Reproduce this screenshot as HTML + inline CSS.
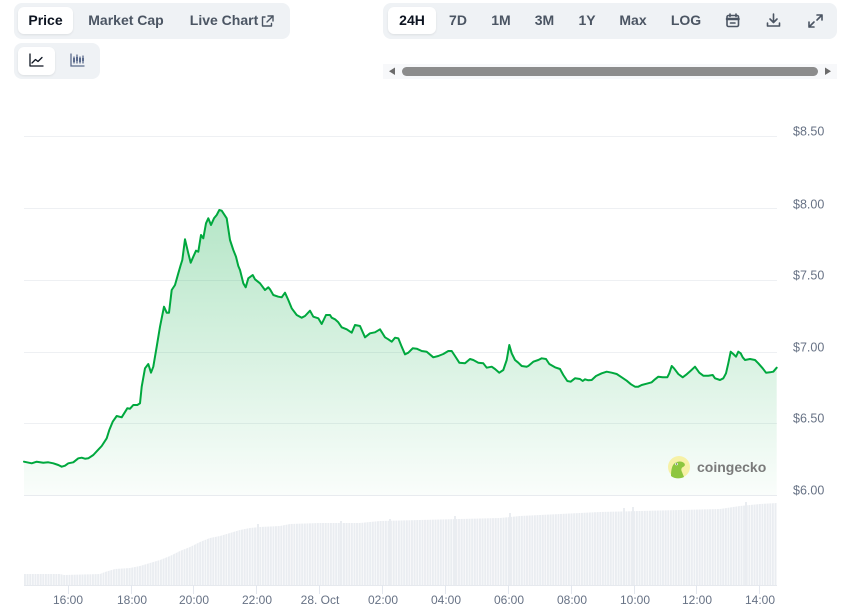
<!DOCTYPE html>
<html><head><meta charset="utf-8">
<style>
*{margin:0;padding:0;box-sizing:border-box}
body{width:841px;height:615px;background:#fff;position:relative;overflow:hidden;font-family:"Liberation Sans",Arial,sans-serif}
.grp{position:absolute;background:#eff2f5;border-radius:8px}
.btn{position:absolute;height:27px;line-height:27px;font-size:14px;font-weight:bold;color:#4b5563;text-align:center;white-space:nowrap}
.sel{background:#fff;border-radius:6px;color:#0d1421;box-shadow:0 1px 2px rgba(0,0,0,0.08)}
svg{position:absolute;left:0;top:0}
</style></head><body>
<div class="grp" style="left:14px;top:3px;width:276px;height:36px"></div>
<div class="btn sel" style="left:18px;top:7px;width:55px">Price</div>
<div class="btn" style="left:82px;top:7px;width:88px">Market Cap</div>
<div class="btn" style="left:186px;top:7px;width:76px">Live Chart</div>

<div class="grp" style="left:14px;top:43px;width:86px;height:36px"></div>
<div class="btn sel" style="left:18px;top:47px;width:37px;height:28px"></div>

<div class="grp" style="left:383px;top:3px;width:454px;height:36px"></div>
<div class="btn sel" style="left:388px;top:7px;width:48px">24H</div>
<div class="btn" style="left:444px;top:7px;width:28px">7D</div>
<div class="btn" style="left:486px;top:7px;width:30px">1M</div>
<div class="btn" style="left:529px;top:7px;width:31px">3M</div>
<div class="btn" style="left:573px;top:7px;width:28px">1Y</div>
<div class="btn" style="left:615px;top:7px;width:36px">Max</div>
<div class="btn" style="left:668px;top:7px;width:36px">LOG</div>

<svg width="841" height="615" viewBox="0 0 841 615">
<defs>
<linearGradient id="ag" x1="0" y1="210" x2="0" y2="495" gradientUnits="userSpaceOnUse">
<stop offset="0" stop-color="#00a83e" stop-opacity="0.29"/>
<stop offset="1" stop-color="#00a83e" stop-opacity="0.02"/>
</linearGradient>
<pattern id="vb" x="24" y="0" width="2.615" height="615" patternUnits="userSpaceOnUse">
<rect x="0" y="0" width="2" height="615" fill="#eaedf1"/>
</pattern>
</defs>
<!-- icons -->
<g fill="none" stroke="#4b5563" stroke-width="1.4" stroke-linecap="round" stroke-linejoin="round">
<path d="M265 17 h-2.5 v9 h9 v-2.5"/><path d="M268 16 h5 v5"/><path d="M273 16 l-6 6"/>
</g>
<g fill="none" stroke="#0d1421" stroke-width="1.3" stroke-linecap="round" stroke-linejoin="round">
<path d="M30 54 v12 h13"/><path d="M32 63 l3.5-3.5 l2.5 2 l4-4"/>
</g>
<g fill="none" stroke="#5b6b8c" stroke-width="1.3" stroke-linecap="round">
<path d="M71 54 v12 h13"/><path d="M74 57 v6 M77 55 v8 M80 57 v6 M83 56 v7"/>
</g>
<g fill="#5b6b8c"><rect x="73" y="58" width="2" height="4"/><rect x="76" y="57" width="2" height="4"/><rect x="79" y="58" width="2" height="4"/><rect x="82" y="58" width="2" height="3"/></g>
<g fill="none" stroke="#4b5563" stroke-width="1.6" stroke-linecap="round" stroke-linejoin="round">
<rect x="727" y="15.5" width="11.5" height="11" rx="1.5"/><path d="M727 19 h11.5" stroke-width="2.5"/><path d="M730.5 23 h4.5"/><path d="M730 14 v2.5 M736 14 v2.5"/>
<path d="M773.5 14 v8 M770 19 l3.5 3.5 l3.5-3.5"/><path d="M767.5 23 v3 h12 v-3"/>
<path d="M817 15 h5 v5 M822 15 l-5 5 M814 27 h-5 v-5 M809 27 l5-5"/>
</g>
<!-- scrollbar -->
<rect x="383" y="64" width="454" height="15" fill="#f7f8fa"/>
<rect x="402" y="67" width="416" height="9" rx="4.5" fill="#8c8c8c"/>
<path d="M395 67.5 v7.5 l-6-3.75z" fill="#6b6b6b"/>
<path d="M825 67.5 v7.5 l6-3.75z" fill="#6b6b6b"/>
<!-- grid -->
<g stroke="#eef0f3" stroke-width="1">
<line x1="24" y1="136.5" x2="777" y2="136.5"/>
<line x1="24" y1="208.5" x2="777" y2="208.5"/>
<line x1="24" y1="280.5" x2="777" y2="280.5"/>
<line x1="24" y1="352.5" x2="777" y2="352.5"/>
<line x1="24" y1="423.5" x2="777" y2="423.5"/>
<line x1="24" y1="495.5" x2="777" y2="495.5" stroke="#e8ebef"/>
</g>
<g font-size="12.5" fill="#677285">
<text x="793" y="135.5">$8.50</text>
<text x="793" y="208.5">$8.00</text>
<text x="793" y="279.5">$7.50</text>
<text x="793" y="351.5">$7.00</text>
<text x="793" y="422.5">$6.50</text>
<text x="793" y="494.5">$6.00</text>
</g>
<!-- volume -->
<polygon fill="url(#vb)" points="24,585 24,574 60,574 64,575 100,574 105,572 115,569 130,568 140,566 150,563 160,560 170,556 180,551 190,547 200,542 210,538 220,536 230,533 240,530 250,528 260,527 280,526 290,524 320,523 360,523 380,521 420,520 460,519 500,518 520,516 560,514 600,512 640,511 680,510 720,509 740,506 760,504 777,503 777,585"/>
<g fill="#eaedf1">
<rect x="257" y="524" width="2" height="61"/><rect x="340" y="521" width="2" height="64"/><rect x="389" y="519" width="2" height="66"/><rect x="454" y="516" width="2" height="69"/><rect x="509" y="513" width="2" height="72"/><rect x="623" y="508" width="2" height="77"/><rect x="632" y="507" width="2" height="78"/><rect x="745" y="502" width="2" height="83"/>
</g>
<line x1="24" y1="585.5" x2="777" y2="585.5" stroke="#e6e9ee"/>
<g stroke="#e3e7ee">
<line x1="68.5" y1="585" x2="68.5" y2="594"/><line x1="131.5" y1="585" x2="131.5" y2="594"/><line x1="193.5" y1="585" x2="193.5" y2="594"/><line x1="256.5" y1="585" x2="256.5" y2="594"/><line x1="319.5" y1="585" x2="319.5" y2="594"/><line x1="382.5" y1="585" x2="382.5" y2="594"/><line x1="445.5" y1="585" x2="445.5" y2="594"/><line x1="508.5" y1="585" x2="508.5" y2="594"/><line x1="571.5" y1="585" x2="571.5" y2="594"/><line x1="634.5" y1="585" x2="634.5" y2="594"/><line x1="696.5" y1="585" x2="696.5" y2="594"/><line x1="759.5" y1="585" x2="759.5" y2="594"/>
</g>
<g font-size="12" fill="#677285" text-anchor="middle">
<text x="68" y="604">16:00</text><text x="132" y="604">18:00</text><text x="194" y="604">20:00</text><text x="257" y="604">22:00</text><text x="320" y="604">28. Oct</text><text x="383" y="604">02:00</text><text x="446" y="604">04:00</text><text x="509" y="604">06:00</text><text x="572" y="604">08:00</text><text x="635" y="604">10:00</text><text x="697" y="604">12:00</text><text x="760" y="604">14:00</text>
</g>
<!-- price -->
<polygon fill="url(#ag)" points="24,461.7 31.7,463.3 36.7,461.7 43.3,462.7 48.3,462.3 53.3,463.3 58.3,465 61.7,466.7 65,465.7 68.3,463.3 73.3,462.3 78.3,458.3 81.7,457.7 85,458.7 88.3,458.3 93.3,455 97.3,450.7 101.7,446 106.7,438.3 109.3,430 112.7,421.7 116.7,416 121.7,417.3 127.3,408.3 130,408.7 133.3,405 137.3,405 140,403.3 141.7,386.7 145,368.3 148.3,364 151,372.7 153.3,366.7 156.7,346.7 160,326.7 164,306.7 166.7,312.7 169,312.7 171.7,290 175,285 178.3,273.3 180.7,265 182.3,260 185,239.3 188.3,253.3 190.7,262.7 193.3,256.7 196,250.7 198.3,251.7 201,235 203.3,238.3 206,223.3 208.3,218.3 211,225 214,218.3 216.7,215 219.3,210 221.7,210.7 226.7,218.3 230,240 233.3,250 236,256.7 238.3,266 240,270 243.3,283.3 245.7,287.3 248.3,278.3 252.7,275 255,279.3 260,283.3 265,290 268.3,287.3 270,289.3 273.3,295 278.3,296.7 281.7,297.3 285,292.7 288.3,300 291.7,308.3 296.7,315 301.7,317.7 305,316 310,310.7 313.3,316.7 318.3,318.3 321.7,324 326,315 330,315 331.7,317.7 335,319.3 338.3,322.3 341.7,327.3 346.7,329.3 351.7,332.7 355,325 360,326 365,337.3 370,333.3 375,332.3 380,329.3 385,337.3 388.3,339.3 391.7,341.7 395,337.7 398.3,338.3 401.7,346.7 405,354.3 408.3,352.7 412.7,348.3 416.7,348.7 421.7,351 426.7,351.7 433.3,357.3 438.3,356 443.3,354 448.3,351 451.7,351 455,356 459.3,362.7 465,363.3 470,359 473.3,360 478.3,362.7 483.3,363.3 486.7,367.7 491.7,366.7 495,369 499.3,372.7 503.3,370 506.7,360 509.3,345 511.7,353.3 515,360 518.3,362.7 521.7,366 526.7,366.7 528.3,366 533.3,361.7 538.3,360 541.7,358.3 546,359 549.3,364 555,367.3 560,369 563.3,375 567.3,381 570.7,381.7 575,378.3 580,379 582.7,381 585,379.3 588.3,380.3 591.7,380 596,376 601.7,373.3 606.7,371.7 611.7,372.7 616.7,374 621.7,377.3 626.7,380.7 631,384.3 635,386.7 638.3,386.7 641.7,385 646.7,383.7 651.7,382.3 655,379.3 658.3,376.7 662.7,377.3 667.3,377.3 669.3,373.3 671.7,366 674,368.3 678.3,374 682.7,377.3 686.7,374.3 690.7,370.7 695,366.7 699.3,372.7 703.3,375.7 708.3,375.7 712.7,375 715,378.3 720,380 723.3,378.3 726,373.3 728.3,363.3 730.7,351.7 733.3,354 736,356.7 738.3,351.7 740.7,353.3 742.7,357.3 745,360 750,359 755,360 758.3,363.3 762.7,368.3 766,372.7 770,372.3 773.3,371.7 776.7,367.7 776.7,495 24,495"/>
<polyline fill="none" stroke="#00a83e" stroke-width="2" stroke-linejoin="round" stroke-linecap="round" points="24,461.7 31.7,463.3 36.7,461.7 43.3,462.7 48.3,462.3 53.3,463.3 58.3,465 61.7,466.7 65,465.7 68.3,463.3 73.3,462.3 78.3,458.3 81.7,457.7 85,458.7 88.3,458.3 93.3,455 97.3,450.7 101.7,446 106.7,438.3 109.3,430 112.7,421.7 116.7,416 121.7,417.3 127.3,408.3 130,408.7 133.3,405 137.3,405 140,403.3 141.7,386.7 145,368.3 148.3,364 151,372.7 153.3,366.7 156.7,346.7 160,326.7 164,306.7 166.7,312.7 169,312.7 171.7,290 175,285 178.3,273.3 180.7,265 182.3,260 185,239.3 188.3,253.3 190.7,262.7 193.3,256.7 196,250.7 198.3,251.7 201,235 203.3,238.3 206,223.3 208.3,218.3 211,225 214,218.3 216.7,215 219.3,210 221.7,210.7 226.7,218.3 230,240 233.3,250 236,256.7 238.3,266 240,270 243.3,283.3 245.7,287.3 248.3,278.3 252.7,275 255,279.3 260,283.3 265,290 268.3,287.3 270,289.3 273.3,295 278.3,296.7 281.7,297.3 285,292.7 288.3,300 291.7,308.3 296.7,315 301.7,317.7 305,316 310,310.7 313.3,316.7 318.3,318.3 321.7,324 326,315 330,315 331.7,317.7 335,319.3 338.3,322.3 341.7,327.3 346.7,329.3 351.7,332.7 355,325 360,326 365,337.3 370,333.3 375,332.3 380,329.3 385,337.3 388.3,339.3 391.7,341.7 395,337.7 398.3,338.3 401.7,346.7 405,354.3 408.3,352.7 412.7,348.3 416.7,348.7 421.7,351 426.7,351.7 433.3,357.3 438.3,356 443.3,354 448.3,351 451.7,351 455,356 459.3,362.7 465,363.3 470,359 473.3,360 478.3,362.7 483.3,363.3 486.7,367.7 491.7,366.7 495,369 499.3,372.7 503.3,370 506.7,360 509.3,345 511.7,353.3 515,360 518.3,362.7 521.7,366 526.7,366.7 528.3,366 533.3,361.7 538.3,360 541.7,358.3 546,359 549.3,364 555,367.3 560,369 563.3,375 567.3,381 570.7,381.7 575,378.3 580,379 582.7,381 585,379.3 588.3,380.3 591.7,380 596,376 601.7,373.3 606.7,371.7 611.7,372.7 616.7,374 621.7,377.3 626.7,380.7 631,384.3 635,386.7 638.3,386.7 641.7,385 646.7,383.7 651.7,382.3 655,379.3 658.3,376.7 662.7,377.3 667.3,377.3 669.3,373.3 671.7,366 674,368.3 678.3,374 682.7,377.3 686.7,374.3 690.7,370.7 695,366.7 699.3,372.7 703.3,375.7 708.3,375.7 712.7,375 715,378.3 720,380 723.3,378.3 726,373.3 728.3,363.3 730.7,351.7 733.3,354 736,356.7 738.3,351.7 740.7,353.3 742.7,357.3 745,360 750,359 755,360 758.3,363.3 762.7,368.3 766,372.7 770,372.3 773.3,371.7 776.7,367.7"/>
<!-- coingecko logo -->
<circle cx="679" cy="467" r="11" fill="#f6f1a6"/>
<path d="M671 476 c0-6 1-11 4-13 c3-2 7-2 9 0 c1.5 1.5 1 3-1 4 c-2 1-2 3-1 5 l2 5 c-4 2-9 2-13-1z" fill="#8dc63f"/>
<circle cx="676.5" cy="464" r="1.3" fill="#fff"/><circle cx="676.5" cy="464" r="0.6" fill="#333"/>
<text x="697" y="472" font-size="14" font-weight="bold" fill="#7a7a7a">coingecko</text>
</svg>
</body></html>
